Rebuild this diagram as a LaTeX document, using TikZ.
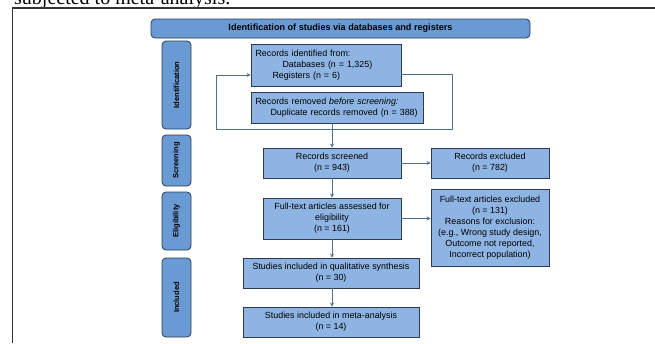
\documentclass[tikz,border=0pt]{standalone}
\usepackage{fontspec}
\setmainfont{Liberation Sans}
\newfontfamily\serifx{Liberation Serif}
\usetikzlibrary{arrows.meta}
\definecolor{boxfill}{HTML}{8EB4E3}
\definecolor{hdrfill}{HTML}{6A9AD3}
\definecolor{bordc}{HTML}{2E3A50}
\definecolor{linec}{HTML}{4F6F8F}
\definecolor{framec}{HTML}{333333}
\tikzset{
  flowbox/.style={draw=bordc, fill=boxfill, line width=0.8pt, inner sep=2pt,
    font=\fontsize{8.9}{11}\selectfont, align=center},
  hdrbox/.style={draw=bordc, fill=hdrfill, line width=0.8pt, rounded corners=4pt,
    inner sep=0pt, font=\fontsize{9.1}{10}\selectfont\bfseries},
  sidebox/.style={draw=bordc, fill=hdrfill, line width=0.8pt, rounded corners=4pt,
    inner sep=0pt, rotate=90, minimum height=29pt, font=\fontsize{7.5}{9}\selectfont\bfseries},
  conn/.style={draw=linec, line width=0.8pt, -{Stealth[length=4pt,width=4pt]}},
  plainconn/.style={draw=linec, line width=0.8pt}
}
\begin{document}
\begin{tikzpicture}[x=1pt,y=-1pt]
\useasboundingbox (0,0) rectangle (655,343);
% clipped text from page above
\begin{scope}
\clip (0,0) rectangle (655,6.3);
\node[anchor=base west, inner sep=0pt, font=\serifx\fontsize{20}{20}\selectfont] (toptext) at (14,4) {subjected to meta-analysis.};
\end{scope}
% frame
\coordinate (fA) at (12.5,343);
\coordinate (fB) at (12.5,8);
\coordinate (fC) at (655,8);
\draw[framec, line width=1.2pt] (fA) -- (fB) -- (fC);
% header
\node[hdrbox, minimum width=379pt, minimum height=19pt] (hdr) at (340.5,28.5)
  {Identification of studies via databases and registers};
% side labels
\node[sidebox, minimum width=88pt] (sideI) at (176.5,85) {Identification};
\node[sidebox, minimum width=51pt] (sideS) at (176.5,160.5) {Screening};
\node[sidebox, minimum width=58pt] (sideE) at (176.5,221) {Eligibility};
\node[sidebox, minimum width=79pt] (sideN) at (176.5,297.5) {Included};
% boxes
\node[flowbox, inner xsep=4.5pt, minimum width=150pt, minimum height=42pt, text width=141pt, align=left] (id) at (326,65)
  {Records identified from:\\\hspace*{27pt}Databases (n = 1,325)\\\hspace*{17pt}Registers (n = 6)};
\node[flowbox, inner xsep=4.5pt, minimum width=172pt, minimum height=31pt, text width=163pt, align=left] (rem) at (337,107.5)
  {Records removed \textit{before screening:}\\\hspace*{15pt}Duplicate records removed (n = 388)};
\node[flowbox, minimum width=138pt, minimum height=30pt] (scr) at (332,163)
  {Records screened\\(n = 943)};
\node[flowbox, minimum width=118pt, minimum height=30pt] (exc) at (490,163)
  {Records excluded\\(n = 782)};
\node[flowbox, minimum width=138pt, minimum height=41pt] (ft) at (332,218.5)
  {Full-text articles assessed for\\eligibility\\(n = 161)};
\node[flowbox, minimum width=118pt, minimum height=77pt] (ftx) at (490,227.5)
  {Full-text articles excluded\\(n = 131)\\Reasons for exclusion:\\(e.g., Wrong study design,\\Outcome not reported,\\Incorrect population)};
\node[flowbox, minimum width=176pt, minimum height=30pt] (qual) at (331,273)
  {Studies included in qualitative synthesis\\(n = 30)};
\node[flowbox, minimum width=176pt, minimum height=30pt] (meta) at (331,322)
  {Studies included in meta-analysis\\(n = 14)};
% loop connector
\coordinate (l1) at (id.east |- 0,74);
\coordinate (l2) at (452,74);
\coordinate (l3) at (452,129);
\coordinate (l4) at (216,129);
\coordinate (l5) at (216,75);
\coordinate (l6) at (id.west |- 0,75);
\draw[plainconn] (l1) -- (l2) -- (l3) -- (l4) -- (l5);
\draw[conn] (l5) -- (l6);
% vertical arrows
\draw[conn] (rem.south -| scr.north) -- (scr.north);
\draw[conn] (scr.south) -- (ft.north);
\draw[conn] (ft.south) -- (ft.south |- qual.north);
\draw[conn] (ft.south |- qual.south) -- (ft.south |- meta.north);
% horizontal arrows
\draw[conn] (scr.east) -- (exc.west);
\draw[conn] (ft.east) -- (ft.east -| ftx.west);
\end{tikzpicture}
\end{document}
